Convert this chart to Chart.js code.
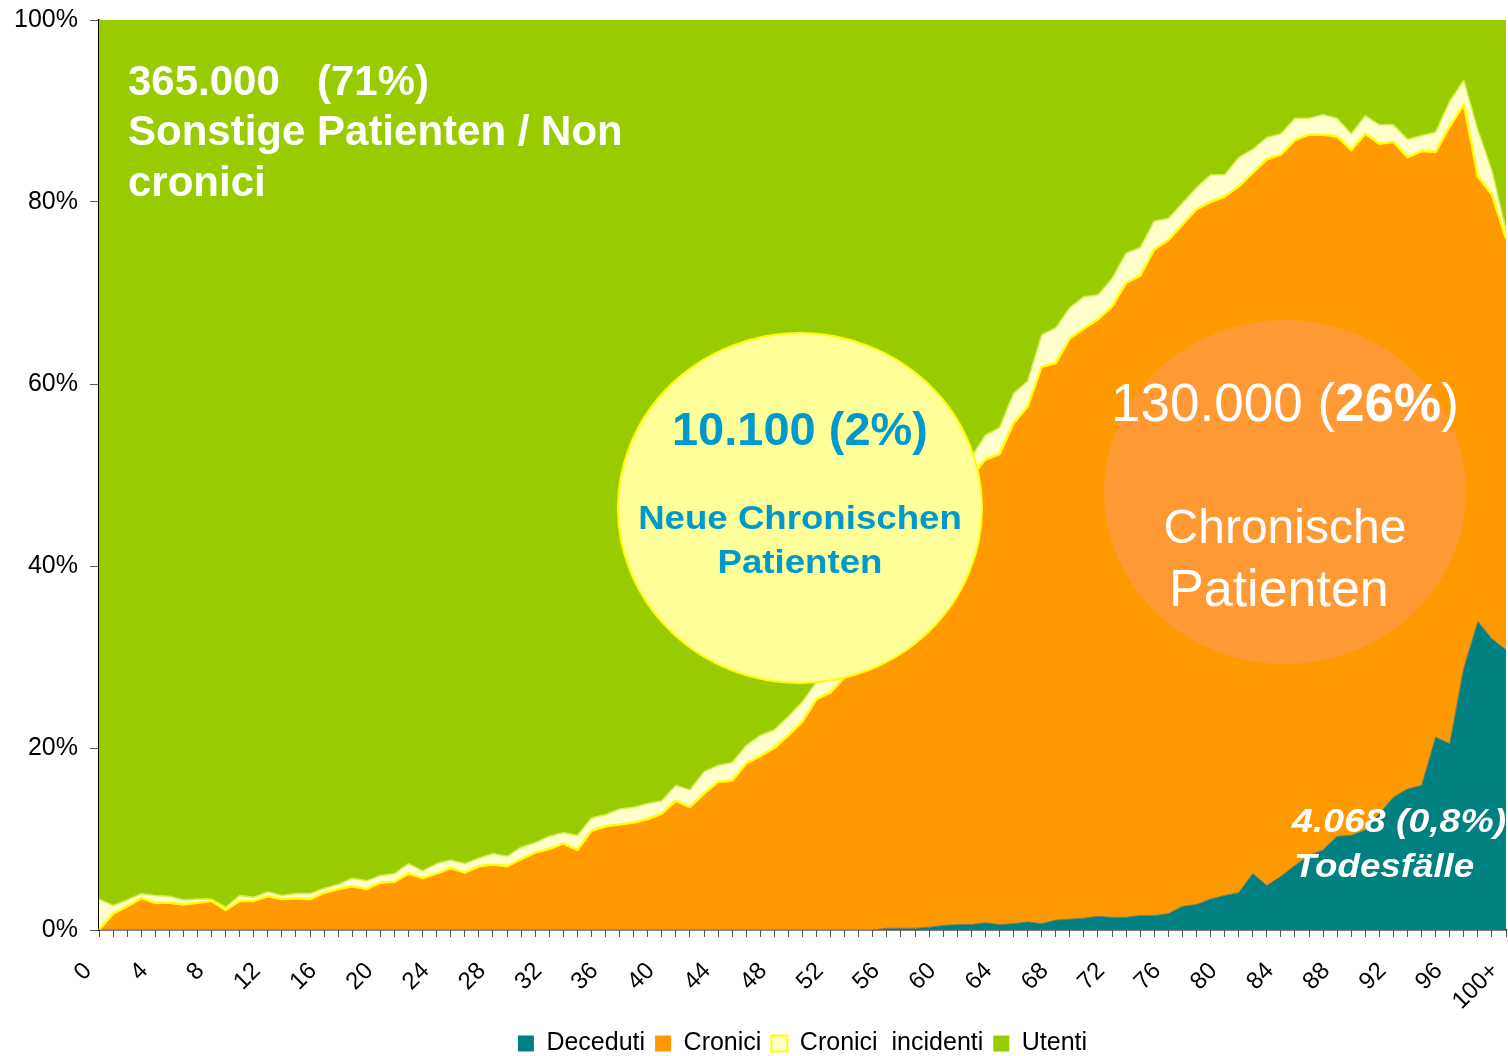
<!DOCTYPE html>
<html>
<head>
<meta charset="utf-8">
<title>Chronische Patienten nach Alter</title>
<script src="https://cdn.jsdelivr.net/npm/chart.js@4.4.1/dist/chart.umd.min.js"></script>
<style>
    html, body { margin: 0; padding: 0; background: #ffffff; overflow: hidden; }
    #wrap { position: relative; width: 1508px; height: 1056px; }
</style>
</head>
<body>
<div id="wrap"><canvas id="areaChart"></canvas></div>
<script>
// Age groups (x axis)
const ages = [
    '0', '1', '2', '3', '4', '5', '6', '7', '8', '9',
    '10', '11', '12', '13', '14', '15', '16', '17', '18', '19',
    '20', '21', '22', '23', '24', '25', '26', '27', '28', '29',
    '30', '31', '32', '33', '34', '35', '36', '37', '38', '39',
    '40', '41', '42', '43', '44', '45', '46', '47', '48', '49',
    '50', '51', '52', '53', '54', '55', '56', '57', '58', '59',
    '60', '61', '62', '63', '64', '65', '66', '67', '68', '69',
    '70', '71', '72', '73', '74', '75', '76', '77', '78', '79',
    '80', '81', '82', '83', '84', '85', '86', '87', '88', '89',
    '90', '91', '92', '93', '94', '95', '96', '97', '98', '99',
    '100+'
];

// Share of each group per age (%)
const deceduti = [
    0, 0, 0, 0, 0, 0, 0, 0, 0, 0,
    0, 0, 0, 0, 0, 0, 0, 0, 0, 0,
    0, 0, 0, 0, 0, 0, 0, 0, 0, 0,
    0, 0, 0, 0, 0, 0, 0, 0, 0, 0,
    0, 0, 0, 0, 0, 0, 0, 0, 0, 0,
    0, 0, 0, 0, 0, 0, 0.2, 0.2, 0.2, 0.3,
    0.5, 0.6, 0.6, 0.8, 0.6, 0.7, 0.9, 0.7, 1.1, 1.2,
    1.3, 1.5, 1.4, 1.4, 1.6, 1.6, 1.8, 2.6, 2.8, 3.4,
    3.8, 4.1, 6.2, 4.9, 5.9, 7.1, 8.2, 8.8, 10.3, 10.4,
    11.0, 12.8, 14.6, 15.5, 15.9, 21.2, 20.5, 28.8, 33.9, 32.0,
    30.8
];
const cronici = [
    0, 1.8, 2.6, 3.5, 3.0, 3.0, 2.8, 3.0, 3.2, 2.2,
    3.2, 3.2, 3.7, 3.4, 3.5, 3.4, 4.1, 4.5, 4.8, 4.5,
    5.2, 5.3, 6.2, 5.7, 6.2, 6.8, 6.3, 7.0, 7.2, 7.0,
    7.8, 8.5, 8.9, 9.5, 8.8, 10.9, 11.4, 11.6, 11.8, 12.2,
    12.8, 14.2, 13.5, 15.0, 16.3, 16.4, 18.3, 19.1, 20.0, 21.4,
    22.9, 25.4, 26.1, 27.8, 28.6, 30.5, 32.8, 35.3, 38.3, 41.2,
    44.0, 46.9, 49.2, 50.9, 51.7, 55.0, 56.6, 61.2, 61.2, 63.8,
    64.8, 65.6, 67.1, 69.7, 70.3, 73.2, 74.0, 74.9, 76.4, 76.6,
    76.8, 77.6, 77.0, 79.8, 79.3, 79.7, 79.2, 78.6, 76.9, 75.3,
    76.5, 73.6, 72.0, 69.4, 69.7, 64.3, 67.8, 61.9, 48.9, 48.8,
    45.2
];
const incidenti = [
    3.4, 0.9, 0.7, 0.5, 0.8, 0.7, 0.5, 0.4, 0.2, 0.3,
    0.6, 0.4, 0.5, 0.4, 0.5, 0.6, 0.5, 0.5, 0.9, 0.9,
    0.8, 0.9, 1.1, 0.8, 1.1, 0.9, 1.0, 0.9, 1.2, 1.1,
    1.3, 1.1, 1.4, 1.2, 1.6, 1.4, 1.3, 1.7, 1.7, 1.7,
    1.4, 1.7, 1.9, 2.4, 1.8, 2.0, 2.0, 2.3, 2.0, 2.1,
    2.2, 1.9, 2.1, 2.0, 2.9, 3.0, 3.0, 3.2, 3.0, 2.8,
    2.5, 2.1, 2.2, 2.7, 2.9, 3.3, 2.8, 3.5, 3.9, 3.4,
    3.5, 2.7, 3.1, 3.3, 3.1, 3.1, 2.4, 2.4, 2.4, 3.0,
    2.4, 3.2, 2.6, 2.4, 2.3, 2.4, 1.8, 2.2, 2.0, 1.8,
    2.0, 2.1, 1.9, 2.0, 1.7, 2.2, 2.8, 2.7, 5.1, 2.7,
    0.9
];
const utenti = [
    96.6, 97.3, 96.7, 96.0, 96.2, 96.3, 96.7, 96.6, 96.6, 97.5,
    96.2, 96.4, 95.8, 96.2, 96.0, 96.0, 95.4, 95.0, 94.3, 94.6,
    94.0, 93.8, 92.7, 93.5, 92.7, 92.3, 92.7, 92.1, 91.6, 91.9,
    90.9, 90.4, 89.7, 89.3, 89.6, 87.7, 87.3, 86.7, 86.5, 86.1,
    85.8, 84.1, 84.6, 82.6, 81.9, 81.6, 79.7, 78.6, 78.0, 76.5,
    74.9, 72.7, 71.8, 70.2, 68.5, 66.5, 64.0, 61.3, 58.5, 55.7,
    53.0, 50.4, 48.0, 45.6, 44.8, 41.0, 39.7, 34.6, 33.8, 31.6,
    30.4, 30.2, 28.4, 25.6, 25.0, 22.1, 21.8, 20.1, 18.4, 17.0,
    17.0, 15.1, 14.2, 12.9, 12.5, 10.8, 10.8, 10.4, 10.8, 12.5,
    10.5, 11.5, 11.5, 13.1, 12.7, 12.3, 8.9, 6.6, 12.1, 16.5,
    23.1
];

const yTicks = [0, 20, 40, 60, 80, 100];
const seriesNames = ['Deceduti', 'Cronici', 'Cronici  incidenti', 'Utenti'];

const FONT = '"Liberation Sans", Arial, Helvetica, sans-serif';

// draw one line of text, optionally stretched horizontally
function drawText(ctx, text, x, y, font, color, align, stretch) {
    ctx.save();
    ctx.font = font;
    ctx.fillStyle = color;
    ctx.textAlign = align || 'left';
    ctx.textBaseline = 'alphabetic';
    ctx.translate(x, y);
    ctx.scale(stretch || 1, 1);
    ctx.fillText(text, 0, 0);
    ctx.restore();
}

function drawEllipse(ctx, cx, cy, rx, ry, fill, stroke) {
    ctx.save();
    ctx.beginPath();
    ctx.ellipse(cx, cy, rx, ry, 0, 0, Math.PI * 2);
    ctx.fillStyle = fill;
    ctx.fill();
    if (stroke) {
        ctx.strokeStyle = stroke;
        ctx.lineWidth = 2;
        ctx.stroke();
    }
    ctx.restore();
}

// Callout bubbles and big labels on top of the areas
const calloutPlugin = {
    id: 'callouts',
    afterDatasetsDraw(chart) {
        const ctx = chart.ctx;
        const xs = chart.scales.x;
        const ys = chart.scales.y;
        const px = a => xs.getPixelForValue(a);
        const py = p => ys.getPixelForValue(p);

        // Sonstige Patienten (green area)
        drawText(ctx, '365.000', px(2.06), py(91.76), 'bold 42px ' + FONT, '#ffffff');
        drawText(ctx, '(71%)', px(15.49), py(91.76), 'bold 42px ' + FONT, '#ffffff');
        drawText(ctx, 'Sonstige Patienten / Non', px(2.06), py(86.26), 'bold 42px ' + FONT, '#ffffff');
        drawText(ctx, 'cronici', px(2.06), py(80.66), 'bold 42px ' + FONT, '#ffffff');

        // Neue chronische Patienten (yellow bubble)
        const yc = px(49.82), yy = py(46.37);
        drawEllipse(ctx, yc, yy, px(49.82 + 12.94) - yc, yy - py(46.37 + 19.23), '#FFFF99', '#FFFF00');
        drawText(ctx, '10.100 (2%)', yc, py(53.3), 'bold 47px ' + FONT, '#0099CC', 'center');
        drawText(ctx, 'Neue Chronischen', yc, py(44.07), 'bold 33px ' + FONT, '#0099CC', 'center', 1.11);
        drawText(ctx, 'Patienten', yc, py(39.23), 'bold 33px ' + FONT, '#0099CC', 'center', 1.11);

        // Chronische Patienten (orange bubble)
        const oc = px(84.29), oy = py(48.13);
        drawEllipse(ctx, oc, oy, px(84.29 + 12.86) - oc, oy - py(48.13 + 18.9), '#FF9933', null);
        const parts = [
            ['130.000 (', '53px ' + FONT],
            ['26%', 'bold 53px ' + FONT],
            [')', '53px ' + FONT]
        ];
        ctx.save();
        let total = 0;
        parts.forEach(p => { ctx.font = p[1]; total += ctx.measureText(p[0]).width; });
        ctx.restore();
        let cursor = oc - total / 2;
        parts.forEach(p => {
            ctx.save();
            ctx.font = p[1];
            const w = ctx.measureText(p[0]).width;
            ctx.restore();
            drawText(ctx, p[0], cursor, py(55.93), p[1], '#ffffff');
            cursor += w;
        });
        drawText(ctx, 'Chronische', oc, py(42.53), '48px ' + FONT, '#ffffff', 'center');
        drawText(ctx, 'Patienten', px(83.86), py(35.6), '52px ' + FONT, '#ffffff', 'center');

        // Todesfälle (teal area)
        drawText(ctx, '4.068 (0,8%)', px(84.79), py(10.77), 'italic bold 34px ' + FONT, '#ffffff', 'left', 1.1);
        drawText(ctx, 'Todesfälle', px(84.93), py(5.82), 'italic bold 34px ' + FONT, '#ffffff', 'left', 1.08);
    }
};

const ctx = document.getElementById('areaChart');

new Chart(ctx, {
    type: 'line',
    data: {
        labels: ages,
        datasets: [
            {
                label: seriesNames[0],
                data: deceduti,
                backgroundColor: '#008080',
                borderColor: '#76805c',
                borderWidth: 1,
                fill: 'origin'
            },
            {
                label: seriesNames[1],
                data: cronici,
                backgroundColor: '#FF9900',
                borderColor: '#FFFF00',
                borderWidth: 2.5,
                fill: '-1'
            },
            {
                label: seriesNames[2],
                data: incidenti,
                backgroundColor: '#FFFFCC',
                borderColor: '#D6EA4C',
                borderWidth: 1.5,
                fill: '-1'
            },
            {
                label: seriesNames[3],
                data: utenti,
                backgroundColor: '#99CC00',
                borderColor: '#99CC00',
                borderWidth: 0,
                fill: '-1'
            }
        ]
    },
    options: {
        responsive: true,
        maintainAspectRatio: false,
        animation: false,
        layout: {
            padding: { left: 0, right: 2, top: 20, bottom: -10 }
        },
        elements: {
            point: { radius: 0, hoverRadius: 0 },
            line: { tension: 0, borderJoinStyle: 'round' }
        },
        scales: {
            x: {
                stacked: true,
                offset: false,
                grid: {
                    drawOnChartArea: false,
                    drawTicks: true,
                    tickLength: 7,
                    tickColor: '#555555',
                    offset: false
                },
                border: { color: '#000000', width: 1.5 },
                ticks: {
                    autoSkip: false,
                    minRotation: 45,
                    maxRotation: 45,
                    padding: 20,
                    labelOffset: -11,
                    color: '#000000',
                    font: { family: FONT, size: 24 },
                    callback: function(value, index) {
                        return index % 4 === 0 ? this.getLabelForValue(value) : '';
                    }
                },
                afterFit: function(scale) {
                    scale.height = 91;
                    scale.paddingLeft = 0;
                    scale.paddingRight = 0;
                }
            },
            y: {
                stacked: true,
                min: 0,
                max: 100,
                grid: {
                    drawOnChartArea: false,
                    drawTicks: true,
                    tickLength: 9,
                    tickColor: '#555555'
                },
                border: { color: '#000000', width: 1.5 },
                afterBuildTicks: function(scale) {
                    scale.ticks = yTicks.map(v => ({ value: v }));
                },
                ticks: {
                    padding: 12,
                    color: '#000000',
                    font: { family: FONT, size: 25 },
                    callback: function(value) {
                        return value + '%';
                    }
                },
                afterFit: function(scale) {
                    scale.width = 99;
                    scale.paddingTop = 0;
                    scale.paddingBottom = 0;
                }
            }
        },
        plugins: {
            legend: {
                display: true,
                position: 'bottom',
                fullSize: false,
                labels: {
                    boxWidth: 16,
                    boxHeight: 16,
                    padding: 10,
                    color: '#000000',
                    font: { family: FONT, size: 25 },
                    generateLabels: function(chart) {
                        return chart.data.datasets.map((ds, i) => ({
                            text: ds.label,
                            fillStyle: ds.backgroundColor,
                            strokeStyle: i === 2 ? '#FFFF00' : ds.backgroundColor,
                            lineWidth: i === 2 ? 2 : 0,
                            hidden: false,
                            datasetIndex: i
                        }));
                    }
                }
            },
            tooltip: { enabled: false }
        }
    },
    plugins: [calloutPlugin]
});
</script>
</body>
</html>
